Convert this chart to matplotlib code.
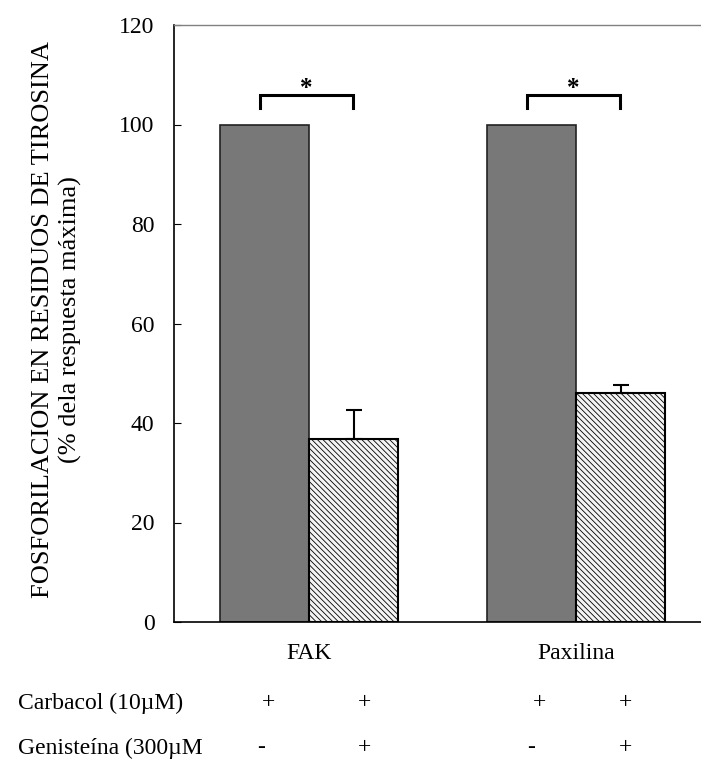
import matplotlib
matplotlib.use('Agg')
import matplotlib.pyplot as plt

plt.rcParams['font.family'] = ['Liberation Serif', 'DejaVu Serif']
plt.rcParams['hatch.color'] = '#a8a8a8'
plt.rcParams['hatch.linewidth'] = 0.6

groups = ['FAK', 'Paxilina']
control = [100, 100]
genisteina = [36.8, 46.0]
genisteina_err = [5.9, 1.6]
carbacol_row = ['+', '+', '+', '+']
genisteina_row = ['-', '+', '-', '+']
row_labels = ['Carbacol (10µM)', 'Genisteína (300µM']

fig = plt.figure(figsize=(7.01, 7.67), dpi=100)
ax = fig.add_axes([174/701, 145/767, 527/701, 597/767])

dark_x = [1, 4]
light_x = [2, 5]
ax.bar(dark_x, control, width=1.0, color='#787878', edgecolor='#222222', linewidth=1.2)
ax.bar(light_x, genisteina, width=1.0, color='#f4f4f4', edgecolor='black',
       linewidth=1.5, hatch='\\\\\\\\\\\\')
ax.errorbar(light_x, genisteina, yerr=[[0, 0], genisteina_err], fmt='none',
            ecolor='black', elinewidth=1.5, capsize=6, capthick=1.5)

# significance brackets
for x0 in dark_x:
    xl, xr = x0 - 0.05, x0 + 0.99
    ax.plot([xl, xl, xr, xr], [103.3, 106, 106, 103.3], color='black', lw=2.2,
            solid_joinstyle='miter')
    ax.text((xl + xr) / 2, 107.3, '*', ha='center', va='center', fontsize=18,
            fontweight='bold')

ax.set_xlim(-0.017, 5.904)
ax.set_ylim(0, 120)
ax.set_yticks(range(0, 121, 20))
ax.set_xticks([1.5, 4.5])
ax.set_xticklabels(groups)
ax.tick_params(axis='y', direction='in', length=5, pad=14, labelsize=17)
ax.tick_params(axis='x', length=0, pad=15, labelsize=17)
ax.spines['right'].set_visible(False)
ax.spines['top'].set_color('#808080')
ax.spines['top'].set_linewidth(1.0)
ax.spines['left'].set_linewidth(1.2)
ax.spines['bottom'].set_linewidth(1.2)

fig.text(57/701, 1 - 320/767,
         'FOSFORILACION EN RESIDUOS DE TIROSINA\n(% dela respuesta máxima)',
         rotation=90, ha='center', va='center', fontsize=19,
         multialignment='center', linespacing=1.25)

# treatment rows below the axis
sign_x = [1.05, 2.118, 4.084, 5.06]
minus_shift = -0.09
row_y = [1 - 703/767, 1 - 748/767]
for lab, ry, signs in zip(row_labels, row_y, [carbacol_row, genisteina_row]):
    fig.text(18/701, ry, lab, ha='left', va='center', fontsize=17)
    for xv, s in zip(sign_x, signs):
        xx = xv + (minus_shift if s == '-' else 0)
        px = ax.transData.transform((xx, 0))[0]
        fig.text(px / 701, ry, s, ha='center', va='center', fontsize=17)

fig.savefig('out.png', dpi=100)
